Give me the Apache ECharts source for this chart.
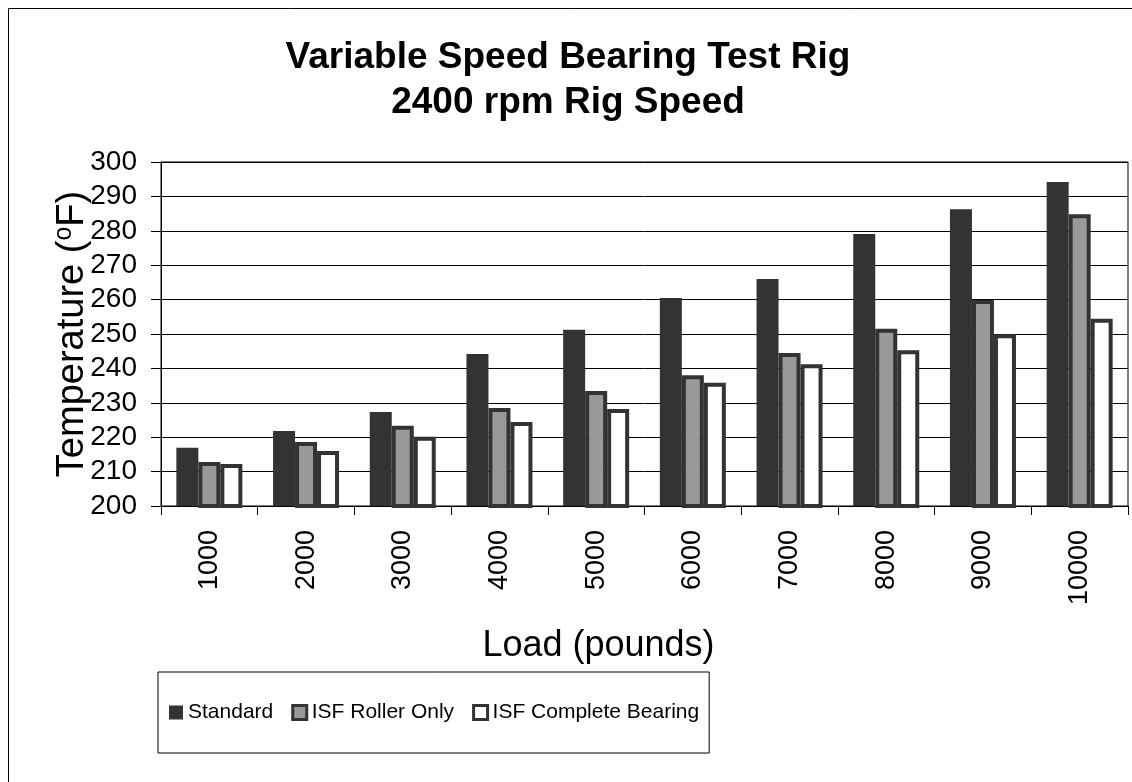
<!DOCTYPE html>
<html>
<head>
<meta charset="utf-8">
<script src="https://cdn.jsdelivr.net/npm/echarts@6/dist/echarts.min.js"></script>
<style>
  html, body { margin: 0; padding: 0; background: #fff; }
  #chart { width: 1132px; height: 782px; }
</style>
</head>
<body>
<div id="chart"></div>
<script>
const loads = ['1000', '2000', '3000', '4000', '5000', '6000', '7000', '8000', '9000', '10000']
const standard = [216.9, 221.8, 227.3, 244.2, 251.2, 260.5, 266, 279.1, 286.3, 294.2]
const rollerOnly = [212.8, 218.6, 223.3, 228.5, 233.4, 238, 244.5, 251.5, 259.9, 284.8]
const completeBearing = [212.2, 216, 220.1, 224.4, 228.2, 235.8, 241.2, 245.3, 249.9, 254.4]
const yTicks = { min: 200, max: 300, step: 10 }

const font = 'Liberation Sans, Arial, sans-serif'
const chart = echarts.init(document.getElementById('chart'))

chart.setOption({
  animation: false,
  backgroundColor: '#fff',
  textStyle: { fontFamily: font, color: '#000' },
  title: {
    text: 'Variable Speed Bearing Test Rig\n2400 rpm Rig Speed',
    left: 568,
    top: 35,
    textAlign: 'center',
    padding: 0,
    textStyle: {
      fontFamily: font,
      fontSize: 37,
      fontWeight: 'bold',
      lineHeight: 45,
      color: '#000',
    },
  },
  // outer chart frame: only left and top edges fall inside the picture
  graphic: [
    {
      type: 'polyline',
      shape: { points: [[8.5, 782], [8.5, 8.5], [1132, 8.5]] },
      style: { fill: 'none', stroke: '#000', lineWidth: 1 },
      silent: true,
    },
  ],
  legend: {
    left: 158,
    top: 672,
    orient: 'horizontal',
    padding: [30, 10, 30, 11],
    itemGap: 18,
    itemWidth: 14,
    itemHeight: 14,
    borderColor: '#000',
    borderWidth: 1,
    textStyle: { fontFamily: font, fontSize: 21, color: '#000' },
    data: [
      { name: 'Standard', icon: 'rect', itemStyle: { color: '#333', borderWidth: 0 } },
      { name: 'ISF Roller Only', icon: 'rect', itemStyle: { color: '#999', borderColor: '#333', borderWidth: 3 } },
      { name: 'ISF Complete Bearing', icon: 'rect', itemStyle: { color: '#fff', borderColor: '#333', borderWidth: 3 } },
    ],
  },
  grid: {
    left: 161,
    top: 162,
    right: 4,
    bottom: 276,
    show: true,
    borderColor: '#000',
    borderWidth: 1,
    containLabel: false,
  },
  xAxis: {
    type: 'category',
    data: loads,
    boundaryGap: true,
    name: 'Load (pounds)',
    nameLocation: 'middle',
    nameGap: 122,
    nameMoveOverlap: false,
    nameTextStyle: { fontFamily: font, fontSize: 36, color: '#000', padding: [0, 92, 0, 0] },
    axisLine: { lineStyle: { color: '#000', width: 1 } },
    axisTick: { show: true, length: 9, lineStyle: { color: '#000' } },
    axisLabel: { rotate: 90, margin: 24, fontFamily: font, fontSize: 27, color: '#000' },
    splitLine: { show: false },
  },
  yAxis: {
    type: 'value',
    min: yTicks.min,
    max: yTicks.max,
    interval: yTicks.step,
    name: 'Temperature ({sup|o}F)',
    nameLocation: 'middle',
    nameRotate: 90,
    nameGap: 68,
    nameMoveOverlap: false,
    nameTextStyle: {
      fontFamily: font,
      fontSize: 38,
      color: '#000',
      rich: {
        sup: { fontFamily: font, fontSize: 25, color: '#000', verticalAlign: 'top', padding: [0, 0, 16, 0] },
      },
    },
    axisLine: { show: true, lineStyle: { color: '#000', width: 1 } },
    axisTick: { show: true, length: 10, lineStyle: { color: '#000' } },
    axisLabel: { margin: 24, fontFamily: font, fontSize: 28, color: '#000' },
    splitLine: { show: true, lineStyle: { color: '#000', width: 1 } },
  },
  series: [
    {
      name: 'Standard',
      type: 'bar',
      data: standard,
      barWidth: 22,
      barGap: '0%',
      itemStyle: { color: '#333' },
    },
    {
      name: 'ISF Roller Only',
      type: 'bar',
      data: rollerOnly,
      barWidth: 22,
      barGap: '0%',
      itemStyle: { color: '#999', borderColor: '#333', borderWidth: 4 },
    },
    {
      name: 'ISF Complete Bearing',
      type: 'bar',
      data: completeBearing,
      barWidth: 22,
      barGap: '0%',
      itemStyle: { color: '#fff', borderColor: '#333', borderWidth: 4 },
    },
  ],
})
</script>
</body>
</html>
